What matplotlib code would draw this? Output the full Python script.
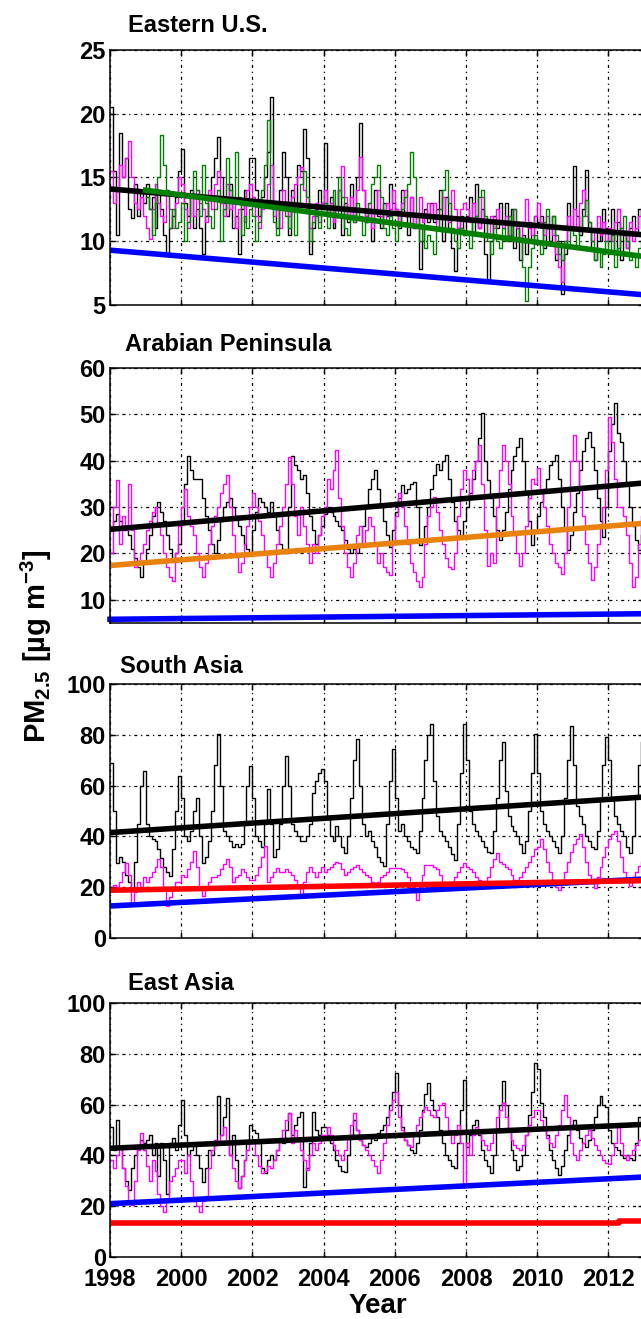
import matplotlib as mpl

mpl.use("Agg")

import numpy as np
import matplotlib.pyplot as plt

plt.rcParams.update({
    "font.family": "Liberation Sans",
    "font.weight": "bold",
    "mathtext.fontset": "custom",
    "mathtext.rm": "Liberation Sans:bold",
    "mathtext.it": "Liberation Sans:bold",
    "mathtext.bf": "Liberation Sans:bold",
    "mathtext.default": "rm",
})

# ---------------------------------------------------------------- data
# monthly values, one row per year (Jan..Dec)
start_year = 1998

us_black = [
    20.5, 15.5, 10.5, 18.5, 15.0, 16.5, 12.5, 11.8, 14.5, 12.0, 14.0, 13.0,
    14.5, 12.5, 13.5, 11.0, 14.0, 12.5, 10.5, 9.0, 11.0, 12.0, 13.5, 15.5,
    17.2, 13.0, 12.0, 14.0, 11.0, 12.5, 11.0, 9.0, 12.0, 13.5, 15.0, 16.5,
    18.2, 15.0, 13.0, 12.0, 14.5, 11.0, 12.0, 9.0, 12.5, 14.0, 13.0, 16.5,
    16.5, 14.0, 12.0, 13.5, 15.0, 17.0, 21.3, 13.0, 11.0, 14.0, 17.0, 15.0,
    10.5, 14.0, 12.5, 16.0, 15.5, 18.8, 16.5, 9.0, 11.0, 12.5, 14.0, 13.0,
    17.7, 12.0, 13.5, 11.0, 12.5, 14.0, 10.5, 13.0, 11.5, 14.5, 12.0, 15.0,
    19.3, 14.0, 11.5, 12.5, 10.0, 14.0, 12.0, 11.0, 13.0, 12.0, 14.5, 13.0,
    12.5, 11.0, 14.0, 12.0, 10.5, 13.5, 11.0, 12.0, 7.8, 10.0, 12.5, 11.5,
    13.0, 11.5, 12.5, 14.0, 10.0, 13.5, 11.0, 9.5, 7.7, 11.0, 12.0, 10.5,
    12.0, 13.5, 10.5, 14.5, 11.0, 12.5, 9.0, 6.9, 10.0, 12.0, 11.0, 13.0,
    11.5, 13.0, 10.0, 12.5, 9.5, 11.0, 8.5, 10.5, 9.0, 11.5, 10.0, 12.0,
    11.5, 12.0, 9.5, 11.0, 10.0, 12.0, 8.5, 10.0, 5.9, 9.0, 13.0, 11.0,
    15.9, 12.0, 10.5, 12.5, 15.6, 11.0, 9.5, 8.5, 11.0, 10.0, 12.5, 11.0,
    10.0, 12.5, 9.0, 11.5, 8.5, 10.5, 9.5, 11.0, 12.0, 10.5, 12.5, 11.0,
]
us_magenta = [
    15.5, 13.0, 14.0, 16.0, 15.0, 16.5, 17.9, 15.0, 13.0, 12.5, 13.5, 12.0,
    11.0, 10.2, 12.5, 14.5, 13.0, 12.0, 11.5, 14.0, 12.5, 11.0, 13.0, 15.0,
    14.5, 12.5, 11.0, 13.5, 12.0, 14.0, 13.0, 12.5, 11.5, 14.0, 12.5, 14.5,
    15.5, 13.0, 12.0, 14.5, 12.5, 13.5, 11.0, 12.5, 13.0, 11.5, 14.0, 14.5,
    13.5, 12.0, 11.0, 12.5, 13.0, 14.5, 16.0, 12.0, 12.5, 11.0, 14.0, 13.0,
    12.0, 13.5, 14.5, 15.0, 15.8, 14.0, 12.5, 11.0, 12.0, 13.0, 11.5, 13.0,
    14.0, 12.0, 13.0, 11.5, 12.5, 14.0, 15.9, 13.5, 12.0, 13.5, 11.5, 14.0,
    16.6, 14.0, 12.0, 13.0, 11.0, 12.5, 14.0, 12.0, 11.5, 13.0, 12.5, 14.0,
    12.5, 11.5, 13.0, 14.0, 12.0, 13.5, 11.0, 12.0, 13.5, 11.5, 12.0, 13.0,
    12.0, 13.0, 11.0, 12.5, 13.5, 12.0, 11.5, 14.0, 12.5, 11.0, 12.5, 13.0,
    12.5, 11.5, 13.0, 12.0, 11.0, 13.5, 11.5, 10.5, 12.0, 11.0, 12.5, 11.5,
    11.0, 12.0, 10.5, 11.5, 12.5, 11.0, 10.0, 11.5, 13.3, 11.0, 10.5, 12.0,
    13.0, 11.5, 10.5, 12.0, 11.0, 10.5, 9.0, 8.0, 6.8, 10.0, 12.0, 11.0,
    12.5, 11.0, 13.0, 14.0, 12.0, 11.5, 10.0, 11.0, 12.0, 10.5, 11.5, 10.0,
    11.0, 10.0, 11.5, 12.5, 11.0, 10.5, 9.5, 11.5, 10.0, 11.0, 12.0, 12.5,
]
# green series starts in 1999
us_green_start = 1999
us_green = [
    13.5, 12.5, 10.5, 13.0, 15.0, 18.3, 16.0, 14.0, 11.0, 12.5, 11.0, 11.5,
    13.0, 10.0, 11.5, 13.5, 15.5, 14.0, 12.0, 16.0, 13.0, 12.0, 11.0, 12.5,
    14.0, 10.0, 12.5, 16.5, 14.0, 13.0, 17.0, 13.5, 10.5, 12.0, 11.0, 12.5,
    12.0, 10.0, 11.5, 14.0, 16.0, 19.5, 13.0, 11.5, 10.5, 12.5, 13.0, 12.0,
    11.0, 12.5, 10.5, 13.0, 14.5, 15.5, 13.5, 10.0, 11.5, 12.0, 11.0, 12.5,
    13.0, 11.0, 12.5, 14.0, 12.0, 15.0, 13.5, 11.0, 10.5, 12.0, 11.5, 13.0,
    12.0, 10.5, 11.5, 13.0, 14.5, 15.0, 16.0, 13.5, 11.0, 10.5, 12.0, 11.0,
    10.0, 11.5, 12.5, 13.5, 14.5, 17.0, 15.0, 12.0, 10.0, 11.0, 9.5, 10.5,
    10.0, 9.0, 11.0, 12.5, 14.0, 15.6, 13.0, 11.0, 10.0, 9.5, 11.0, 10.5,
    10.5, 9.5, 11.5, 12.0, 13.5, 14.0, 12.0, 10.0, 9.0, 11.5, 10.0, 9.5,
    11.0, 10.0, 12.0, 10.5, 12.5, 11.5, 10.0, 8.0, 5.3, 8.0, 9.5, 10.5,
    10.0, 9.0, 11.5, 12.5, 11.0, 12.0, 10.5, 9.0, 8.5, 10.0, 9.5, 11.0,
    10.5, 9.5, 11.0, 12.0, 13.2, 11.5, 10.0, 8.5, 9.5, 8.0, 9.0, 10.0,
    9.0, 10.5, 8.0, 9.5, 11.0, 12.0, 10.0, 8.5, 9.0, 8.0, 9.5, 10.0,
]

ap_black = [
    25, 27, 28.6, 27, 25, 26, 24, 21, 19, 17, 15, 18,
    21, 24, 28, 30, 31, 29, 27, 24, 21, 18.5, 20, 22,
    27, 35, 41, 38, 36, 36, 36, 32, 28, 25, 22, 20,
    23, 27, 30, 31, 32, 30, 28, 26, 24, 22, 21, 20,
    25, 29, 32, 31, 30, 29, 31, 28, 25, 22, 21, 20,
    30, 41, 39, 38, 36, 37, 33, 28, 25, 22, 24, 26,
    28.6, 30, 29, 28, 27, 26, 25, 23, 21, 20, 21, 20,
    22, 26, 30, 34, 36, 38.1, 34, 30, 27, 24, 21.4, 25,
    29, 32, 34.7, 33, 34, 35, 35.5, 30, 21.9, 23, 26, 30,
    34, 37, 39.4, 38, 40, 41.2, 36, 31, 27, 25, 23.6, 27,
    30, 33, 36, 40, 45, 50.3, 40, 35.8, 32, 28, 25, 22.8,
    25, 29, 34, 38, 41, 43, 44.8, 40, 33, 27, 21.8, 25,
    28, 31, 34, 36, 39, 40, 41.2, 36, 30, 25, 20.7, 24,
    29, 33, 38, 42, 45, 46.3, 43, 38, 32, 27, 23.6, 30,
    42, 48, 52.4, 46, 44.1, 40, 35, 30, 26, 23, 20.7, 24,
]
ap_magenta = [
    20, 30, 35.8, 22, 28, 25, 35, 25, 17, 18, 20, 22,
    25, 27, 29, 30, 26, 24, 20, 17, 15, 14, 20, 26,
    30, 34, 28, 26, 24, 20, 17, 15, 18, 22, 26, 28,
    30, 33, 35, 37, 30, 24, 20, 16, 18, 22, 26, 30,
    33, 30, 27, 24, 20, 17, 15, 18, 22, 26, 30, 35,
    40.8, 35, 28, 24, 30, 26, 22, 18, 22, 20, 24, 28,
    30, 36, 34, 38, 42.3, 32, 26, 20, 17, 14.9, 18, 24,
    26, 22, 25, 27.9, 26, 22, 18, 20, 17, 16, 15.3, 22,
    28, 33, 30, 26, 22, 18, 16, 14, 12.7, 15, 22, 28,
    30, 32.2, 29, 25, 22, 19, 17, 16.7, 20, 28, 34, 38,
    36, 32, 38, 40, 43.4, 35, 25, 17.4, 20, 18, 30, 38,
    43.4, 40, 35, 28, 24, 20, 17.4, 20, 26, 32, 36, 35,
    38.4, 34, 30, 26, 22, 20, 18, 17, 15.6, 20, 30, 40,
    45.6, 40, 34, 28, 22, 18, 14.2, 17, 22, 26, 30, 38,
    49.5, 44, 36, 30, 30, 28, 24, 18, 12.7, 15, 22, 28,
]

sa_black = [
    69, 50, 29.6, 32, 30, 25, 22, 19, 30, 45, 60, 65.8,
    45, 40, 39, 38, 35, 31.6, 28, 26, 24.3, 35, 50, 63.8,
    55, 40, 38, 42, 50, 55.3, 40, 29.6, 32, 38, 50, 68,
    80.3, 60, 42, 40, 38, 36, 37, 36, 37, 45, 60, 67.8,
    55, 40, 38, 36, 45, 58.6, 45, 32, 35, 45, 60, 71.7,
    60, 45, 42, 40, 38, 38, 40, 45, 57, 62, 65, 66.4,
    62, 48, 40, 38, 44, 40, 36, 33.6, 40, 55, 70, 78.3,
    60, 45, 40, 42, 38, 36, 32, 30, 28.3, 45, 62, 74.3,
    55, 42, 45, 40, 38, 36, 35, 33.6, 42, 55, 70, 80,
    84.2, 62, 48, 42, 40, 38, 36, 33, 30.9, 45, 65, 84.2,
    70, 50, 45, 42, 40, 38, 36, 34, 33.6, 42, 55, 70,
    77, 58, 48, 44, 42, 40, 37, 33.6, 38, 50, 65, 80.3,
    65, 50, 45, 42, 40, 38, 36, 33.6, 40, 55, 70, 83.6,
    68, 52, 48, 45, 40, 38, 36, 34.9, 42, 55, 68, 79,
    70, 55, 48, 45, 42, 40, 36, 33.6, 40, 55, 68, 77,
]
sa_magenta = [
    19, 21, 20, 22, 26, 29.6, 25, 13.2, 18, 22, 20, 24,
    22, 24, 26, 28, 31, 28, 20, 12.5, 16, 20, 22, 22,
    25, 24, 27, 30, 34.2, 28, 20, 16.4, 20, 22, 24, 24,
    25, 27, 29, 31, 28, 22, 24, 25, 27, 26, 24, 23,
    23, 25, 28, 32, 36.2, 22, 24, 26, 27.6, 26, 26, 27,
    26, 25, 23, 20, 17, 22, 26, 28, 26, 24, 26, 28,
    26, 27, 28, 29, 30, 29.6, 27, 25, 26, 27, 28, 28.9,
    27, 26, 25, 24, 22, 21.7, 22, 24, 25, 26, 27.6, 27.6,
    27.6, 27.6, 27, 26, 24, 20, 18, 15.1, 20, 25, 28.9, 28.9,
    28.9, 28, 27, 25, 22, 20, 19, 22, 24, 26, 28, 29.6,
    28, 27, 26, 24, 23, 22, 21.7, 24, 28, 31, 33.6, 30,
    29, 28, 27, 25, 23, 23, 24, 26, 28, 30, 32.2, 35,
    36, 38.8, 35, 30, 26, 22, 20, 19, 22, 26, 30, 34,
    37, 39, 40.8, 36, 30, 25, 22, 19.7, 24, 28, 32, 36,
    39, 41, 42.1, 38, 32, 26, 22, 20.4, 24, 26, 28.3, 30,
]

ea_black = [
    51.3, 42, 54, 43, 35, 30, 26.3, 35, 40, 44, 46, 45,
    46, 48, 40, 45, 32, 45, 38, 25, 45, 47, 42, 52,
    61.8, 48, 40, 42, 44, 40, 35, 29.6, 35, 42, 40, 44,
    63.2, 48, 55, 62.5, 40, 48, 38, 27, 32, 38, 45, 52,
    50, 49, 45, 35, 33, 38, 40, 38, 42, 47, 45, 50,
    56.6, 48, 52, 55, 57, 27.6, 35, 45, 57, 50, 48, 51,
    51.3, 48, 45, 42, 38, 36, 34, 33.6, 40, 48, 54, 50,
    46, 44, 43.4, 45, 47, 46, 48.7, 50, 52, 55.3, 60, 65,
    72.4, 60, 51.3, 46, 44, 42, 40.8, 45, 50, 58, 64, 68.4,
    62, 57.9, 55, 50, 45, 40, 38, 36, 34.9, 45, 58, 69.7,
    43.4, 48, 52, 54, 48, 42, 38, 36, 32.9, 40, 50, 60,
    69.1, 60, 50, 42, 38, 34.2, 36, 40, 48, 56, 65, 76.3,
    74, 60.5, 55, 48, 42, 38, 35, 32.2, 36, 42, 48, 52,
    54, 50, 47, 45, 43.4, 46, 50, 55, 60, 63.2, 60, 59.2,
    50, 45, 43.4, 42, 40, 39, 40, 39, 38.2, 45, 55.3, 52,
]
ea_magenta = [
    38.2, 35, 40, 43.4, 35, 28, 22, 20.4, 30, 42, 48.7, 42,
    36, 30, 38, 34, 25, 20, 17.8, 22, 30, 32, 35, 38,
    38.2, 33, 40, 30, 22, 20, 17.8, 22, 24, 35, 42, 46,
    45, 48, 51.3, 45, 40, 35, 30, 27, 32, 38, 42, 44.7,
    44.7, 40, 36, 33, 34, 36, 35, 38, 42, 46, 50, 54,
    56.6, 45, 50, 46, 42, 38, 34.2, 40, 45, 42, 45, 48,
    48, 51.3, 48, 44, 42, 40, 38.2, 42, 48, 52, 56.6, 50,
    46, 44, 42, 40, 38, 36, 32.9, 38, 45, 52, 58, 62,
    65.1, 55, 50, 46, 44, 43.4, 48, 52, 55, 57, 59.2, 58,
    56, 55, 58, 60, 60.5, 55, 50, 44.7, 48, 52, 45, 27.6,
    45, 40, 48, 51.3, 50, 46, 44, 42.1, 45, 50, 55, 58,
    60.5, 55, 50, 46, 44, 43, 42.1, 44, 48, 52, 55, 57.9,
    57.9, 54, 50, 47, 45, 43.4, 48, 52, 58, 63.8, 55, 45,
    40, 38.2, 42, 45, 48, 50, 47, 44, 42, 40, 38, 37,
    36.8, 40, 45, 51.3, 45, 40, 38.2, 40, 42, 44, 46, 47,
]

# trend lines: (start, end) values over 1998-2013
trend_years = [1998, 2013]
us_trend_black = [14.1, 10.5]
us_trend_green = [14.0, 8.8]      # from 1999
us_trend_blue = [9.3, 5.8]
ap_trend_black = [25.2, 35.2]
ap_trend_orange = [17.4, 26.5]
ap_trend_blue = [5.8, 7.0]
sa_trend_black = [41.5, 55.5]
sa_trend_red = [18.8, 22.6]
sa_trend_blue = [12.6, 23.2]
ea_trend_black = [42.8, 52.2]
ea_trend_blue = [21.0, 31.5]
ea_trend_red_years = [1998, 2012.3, 2012.3, 2013]
ea_trend_red = [13.2, 13.2, 14.2, 14.2]

# ---------------------------------------------------------------- plot
W, H = 641, 1319
fig = plt.figure(figsize=(W / 100, H / 100), dpi=100)

x_left, x_right = 110, 644
panels_px = [(50, 305), (368, 623), (684, 938), (1003, 1257)]


def months(vals, y0=start_year):
    return y0 + np.arange(len(vals)) / 12.0


def make_ax(top, bottom, ylim, yticks):
    ax = fig.add_axes([x_left / W, 1 - bottom / H, (x_right - x_left) / W, (bottom - top) / H])
    ax.set_xlim(1998, 2013)
    ax.set_ylim(*ylim)
    ax.set_xticks(range(1998, 2013, 2))
    ax.set_yticks(yticks)
    ax.grid(True, color="black", linewidth=0.9, linestyle=(0, (2.5, 3, 1, 3)))
    ax.tick_params(direction="in", length=4, width=1, labelsize=17, top=True, right=True, pad=3)
    for s in ax.spines.values():
        s.set_linewidth(1.1)
    ax.set_xticklabels([])
    return ax


thin = 1.0
thick = 4.0
kw = dict(drawstyle="steps-post")

# Eastern U.S.
ax = make_ax(*panels_px[0], (5, 25), [5, 10, 15, 20, 25])
ax.plot(months(us_black), us_black, color="black", lw=thin, **kw)
ax.plot(months(us_magenta), us_magenta, color="#ff00ff", lw=thin, **kw)
ax.plot(months(us_green, us_green_start), us_green, color="#008000", lw=thin, **kw)
ax.plot(trend_years, us_trend_black, color="black", lw=thick)
ax.plot([us_green_start, 2013], us_trend_green, color="#008000", lw=thick)
ax.plot(trend_years, us_trend_blue, color="#0000ff", lw=thick)

# Arabian Peninsula
ax = make_ax(*panels_px[1], (5, 60), [10, 20, 30, 40, 50, 60])
ax.plot(months(ap_black), ap_black, color="black", lw=thin, **kw)
ax.plot(months(ap_magenta), ap_magenta, color="#ff00ff", lw=thin, **kw)
ax.plot(trend_years, ap_trend_black, color="black", lw=thick)
ax.plot(trend_years, ap_trend_orange, color="#e8820c", lw=thick)
ax.plot(trend_years, ap_trend_blue, color="#0000ff", lw=thick, clip_on=False)

# South Asia
ax = make_ax(*panels_px[2], (0, 100), [0, 20, 40, 60, 80, 100])
ax.plot(months(sa_black), sa_black, color="black", lw=thin, **kw)
ax.plot(months(sa_magenta), sa_magenta, color="#ff00ff", lw=thin, **kw)
ax.plot(trend_years, sa_trend_black, color="black", lw=thick)
ax.plot(trend_years, sa_trend_blue, color="#0000ff", lw=thick)
ax.plot(trend_years, sa_trend_red, color="#ff0000", lw=thick)

# East Asia
ax = make_ax(*panels_px[3], (0, 100), [0, 20, 40, 60, 80, 100])
ax.plot(months(ea_black), ea_black, color="black", lw=thin, **kw)
ax.plot(months(ea_magenta), ea_magenta, color="#ff00ff", lw=thin, **kw)
ax.plot(trend_years, ea_trend_black, color="black", lw=thick)
ax.plot(trend_years, ea_trend_blue, color="#0000ff", lw=thick)
ax.plot(ea_trend_red_years, ea_trend_red, color="#ff0000", lw=thick)
ax.set_xticklabels([str(y) for y in range(1998, 2013, 2)])
ax.tick_params(axis="x", pad=8)

titles = ["Eastern U.S.", "Arabian Peninsula", "South Asia", "East Asia"]
title_px = [(128, 25), (125, 345), (120, 667), (128, 983)]
for t, (tx, ty) in zip(titles, title_px):
    fig.text(tx / W, 1 - ty / H, t, fontsize=17, fontweight="bold", ha="left", va="center")

fig.text(36 / W, 1 - 646 / H, r"PM$_{2.5}$ [µg m$^{-3}$]", fontsize=21,
         fontweight="bold", rotation=90, ha="center", va="center")
fig.text(378 / W, 1 - 1306 / H, "Year", fontsize=20, fontweight="bold", ha="center", va="center")

plt.savefig("out.png", dpi=100)
plt.close()
